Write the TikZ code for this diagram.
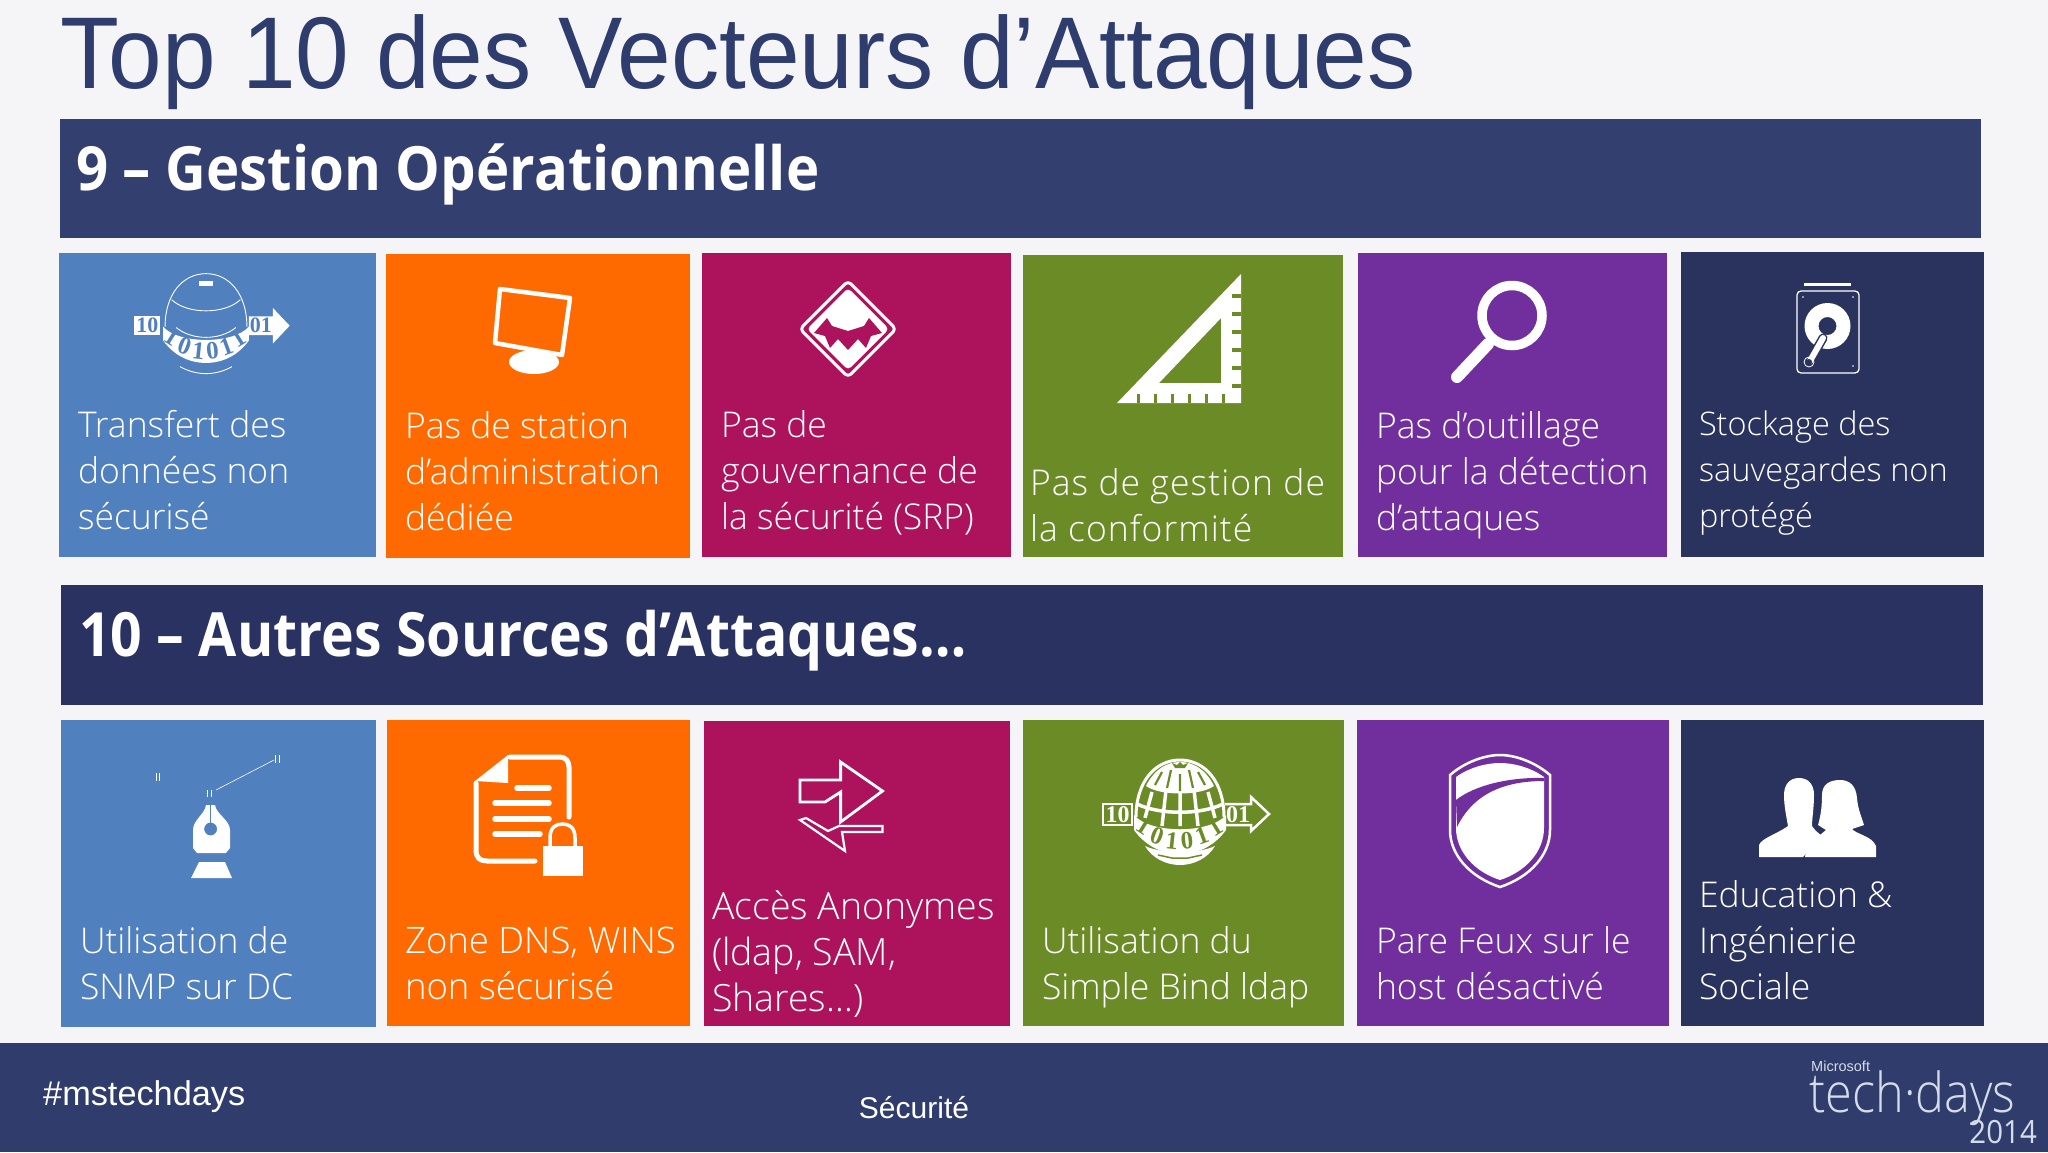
\documentclass[tikz,border=0pt]{standalone}
\usepackage{graphicx}
\usepackage{fontspec}
\setmainfont{Liberation Sans}
\newfontfamily\tilefont{Open Sans Light}
\newfontfamily\tilewide[LetterSpace=3]{Open Sans Light}
\newfontfamily\headfont{Open Sans}
\newfontfamily\logofont{Open Sans Light}
\newfontfamily\digitfont{Liberation Serif}
\definecolor{cbg}{HTML}{F5F5F7}
\definecolor{cblue}{HTML}{5080BE}
\definecolor{corange}{HTML}{FF6A00}
\definecolor{cmag}{HTML}{AD135C}
\definecolor{cgreen}{HTML}{6B8B26}
\definecolor{cpurple}{HTML}{712F9E}
\definecolor{cnavy}{HTML}{2A325E}
\definecolor{cbanA}{HTML}{333F6E}
\definecolor{cbanB}{HTML}{293260}
\definecolor{cfoot}{HTML}{303C6C}
\definecolor{ctitle}{HTML}{2E3D6E}
\definecolor{clogo}{HTML}{D5DCE9}
\tikzset{
  panel/.style={anchor=north west,inner sep=0pt,outer sep=0pt,draw=none},
  tiletext/.style={anchor=west,inner sep=0pt,outer sep=0pt,align=left,text=white,font=\tilefont\fontsize{35.5}{46}\selectfont},
  headtext/.style={anchor=base west,inner sep=0pt,text=white,font=\headfont\bfseries\fontsize{61}{63}\selectfont},
  ic/.style={white,line cap=round,line join=round},
}
% \tile{name}{x1}{y1}{x2}{y2}{colour}
\newcommand{\tile}[6]{\node[panel,fill=#6,minimum width=\the\dimexpr#4pt-#2pt\relax,minimum height=\the\dimexpr#5pt-#3pt\relax] (#1) at (#2,#3) {};}
% band of a globe icon
\newcommand{\globeband}[1]{%
  \fill[white] (-46,3) .. controls (-30,22) and (30,22) .. (46,3) -- (46,18) .. controls (36,32) and (20,42) .. (0,42) .. controls (-20,42) and (-36,32) .. (-46,18) -- cycle;
  \foreach \ch/\px/\py/\rt in {1/-36/14/-32,0/-23/24/-20,1/-8/29/-6,0/7/29/6,1/22/24/20,1/35/15/32}
    \node[inner sep=0pt,text=#1,rotate=\rt,font=\digitfont\bfseries\fontsize{25}{25}\selectfont] at (\px,\py) {\ch};
}
\begin{document}
\begin{tikzpicture}[x=1pt,y=-1pt]
\useasboundingbox (0,0) rectangle (2048,1152);
\fill[cbg] (0,0) rectangle (2048,1152);
% title
\node[anchor=base west,inner sep=0pt,text=ctitle,font=\fontsize{102}{104}\selectfont] (title) at (60,88.5) {\scalebox{.945}[1]{Top 10 des Vecteurs d’Attaques}};
% banners
\tile{banA}{60}{119}{1981}{238}{cbanA}
\tile{banB}{61}{585}{1983}{705}{cbanB}
\node[headtext] (headA) at (76,190) {\scalebox{.923}[1]{9 – Gestion Opérationnelle}};
\node[headtext] (headB) at (79,656.5) {\scalebox{.908}[1]{10 – Autres Sources d’Attaques…}};
% row 1
\tile{a1}{59}{253}{376}{557}{cblue}
\tile{a2}{386}{254}{690}{558}{corange}
\tile{a3}{702}{253}{1011}{557}{cmag}
\tile{a4}{1023}{255}{1343}{557}{cgreen}
\tile{a5}{1358}{253}{1667}{557}{cpurple}
\tile{a6}{1681}{252}{1984}{557}{cnavy}
% row 2
\tile{b1}{61}{720}{376}{1027}{cblue}
\tile{b2}{387}{720}{690}{1026}{corange}
\tile{b3}{704}{721}{1010}{1026}{cmag}
\tile{b4}{1023}{720}{1344}{1026}{cgreen}
\tile{b5}{1357}{720}{1669}{1026}{cpurple}
\tile{b6}{1681}{720}{1984}{1026}{cnavy}
% footer
\tile{foot}{0}{1043}{2048}{1152}{cfoot}
% tile labels
\node[tiletext] (ta1) at (78,470) {Transfert des\\données non\\sécurisé};
\node[tiletext] (ta2) at (405,471) {Pas de station\\d’administration\\dédiée};
\node[tiletext] (ta3) at (721,473) {Pas de\\gouvernance de\\la sécurité (SRP)};
\node[tiletext,font=\tilewide\fontsize{35.5}{46}\selectfont] (ta4) at (1030,505) {Pas de gestion de\\la conformité};
\node[tiletext] (ta5) at (1376,475) {Pas d’outillage\\pour la détection\\d’attaques};
\node[tiletext,font=\tilefont\fontsize{32.5}{46}\selectfont] (ta6) at (1699,473) {Stockage des\\sauvegardes non\\protégé};
\node[tiletext] (tb1) at (80,963) {Utilisation de\\SNMP sur DC};
\node[tiletext,font=\tilefont\fontsize{36.5}{46}\selectfont] (tb2) at (405,963) {Zone DNS, WINS\\non sécurisé};
\node[tiletext,font=\tilefont\fontsize{37.5}{46}\selectfont] (tb3) at (712,954) {Accès Anonymes\\(ldap, SAM,\\Shares…)};
\node[tiletext] (tb4) at (1042,967) {Utilisation du\\Simple Bind ldap};
\node[tiletext] (tb5) at (1376,963) {Pare Feux sur le\\host désactivé};
\node[tiletext] (tb6) at (1699,940) {Education \&\\Ingénierie\\Sociale};
% footer text
\node[anchor=west,inner sep=0pt,text=white,font=\fontsize{34.3}{40}\selectfont] (tag) at (43,1097) {\#mstechdays};
\node[inner sep=0pt,text=white,font=\fontsize{30}{32}\selectfont] (sec) at (914,1108) {Sécurité};
\node[anchor=base west,inner sep=0pt,text=clogo,font=\fontsize{14.5}{16}\selectfont] (ms) at (1811,1071) {Microsoft};
\node[anchor=base west,inner sep=0pt,text=clogo,font=\logofont\fontsize{55}{55}\selectfont] (td) at (1809,1112) {\scalebox{.885}[1]{tech·days}};
\node[anchor=base east,inner sep=0pt,text=clogo,font=\headfont\fontsize{32}{32}\selectfont] (yr) at (2037,1143) {\scalebox{.92}[1]{2014}};
% --- icon a1: thin globe
\begin{scope}[shift={(206,322)},scale=.93]
  \draw[white,line width=.9] (-44,5) .. controls (-44,-30) and (-25,-52) .. (0,-52) .. controls (25,-52) and (44,-30) .. (44,5);
  \draw[white,line width=.9] (-37,-24) .. controls (-20,-8) and (20,-8) .. (37,-24);
  \draw[white,line width=.9] (-32,6) .. controls (-15,20) and (15,20) .. (32,6);
  \fill[white] (-8,-44) rectangle (8,-39);
  \draw[white,line width=.9] (-28,48) .. controls (-10,58) and (10,58) .. (28,48);
  \begin{scope}[yshift=-2pt]\globeband{cblue}\end{scope}
  \fill[white] (-77,-6) rectangle (-49,14);
  \node[inner sep=0pt,text=cblue,font=\digitfont\bfseries\fontsize{22}{22}\selectfont] at (-63,4) {10};
  \fill[white] (46,-6) -- (72,-6) -- (72,-15) -- (90,4) -- (72,23) -- (72,14) -- (46,14) -- cycle;
  \node[inner sep=0pt,text=cblue,font=\digitfont\bfseries\fontsize{22}{22}\selectfont] at (59,4) {01};
\end{scope}
% --- icon b4: bold globe
\begin{scope}[shift={(1180,812)}]
  \draw[white,line width=3] (-44,5) .. controls (-44,-30) and (-25,-52) .. (0,-52) .. controls (25,-52) and (44,-30) .. (44,5);
  \fill[white] (-34,-26) .. controls (-25,-44) and (-12,-50) .. (0,-50) .. controls (12,-50) and (25,-44) .. (34,-26) .. controls (20,-16) and (-20,-16) .. (-34,-26) -- cycle;
  \draw[cgreen,line width=2.2] (-9,-42) -- (-13,-24) (0,-38) -- (0,-21) (9,-42) -- (13,-24) (-18,-40) -- (-25,-27) (18,-40) -- (25,-27);
  \fill[cgreen] (-8,-49) -- (-5,-44) -- (5,-44) -- (8,-49) -- (3,-47) -- (0,-50) -- (-3,-47) -- cycle;
  \draw[white,line width=3.5] (0,-20) -- (0,14) (-14,-22) -- (-18,14) (14,-22) -- (18,14) (-28,-20) -- (-35,6) (28,-20) -- (35,6);
  \draw[white,line width=3.5] (-43,-8) .. controls (-20,3) and (20,3) .. (43,-8);
  \globeband{cgreen}
  \fill[white] (-35,34) .. controls (-18,42) and (18,42) .. (35,34) .. controls (28,46) and (14,53) .. (0,53) .. controls (-14,53) and (-28,46) .. (-35,34) -- cycle;
  \draw[cgreen,line width=1.5] (-22,43) -- (-8,46) -- (8,46) -- (22,43);
  \draw[white,line width=2.5] (-77,-8) rectangle (-48,13);
  \node[inner sep=0pt,text=white,font=\digitfont\bfseries\fontsize{24}{24}\selectfont] at (-62.5,2.5) {10};
  \draw[white,line width=2.5,line join=miter] (45,-8) -- (71,-8) -- (71,-15) -- (89,2) -- (71,19) -- (71,13) -- (45,13);
  \node[inner sep=0pt,text=white,font=\digitfont\bfseries\fontsize{24}{24}\selectfont] at (58,2.5) {01};
\end{scope}
% --- icon a2: monitor
\fill[white] (534,362) ellipse (25 and 12);
\draw[ic,line width=4.5,fill=corange] (500,289) -- (570,298) -- (562,355) -- (495,343) -- cycle;
% --- icon a3: diamond
\draw[ic,line width=3,rounded corners=4pt] (848,281) -- (896,329) -- (848,377) -- (800,329) -- cycle;
\fill[white,rounded corners=4pt] (848,288) -- (889,329) -- (848,370) -- (807,329) -- cycle;
\fill[cmag] (814,333) -- (827,318) -- (832,326) -- (848,331) -- (864,326) -- (869,318) -- (882,333) -- (871,336) -- (866,348) -- (858,339) -- (848,350) -- (838,339) -- (830,348) -- (825,336) -- cycle;
% --- icon a4: set square
\fill[white,even odd rule] (1241,274) -- (1241,403) -- (1117,403) -- cycle (1221,318) -- (1221,383) -- (1159,383) -- cycle;
\foreach \n in {0,...,5} \fill[cgreen] (1232,{294+\n*18}) rectangle (1241,{298+\n*18});
\foreach \n in {0,...,5} \fill[cgreen] ({1137+\n*17},394) rectangle ({1140+\n*17},403);
% --- icon a5: magnifier
\draw[ic,line width=9.5] (1512,315.5) circle (30);
\draw[ic,line width=12] (1488,344) -- (1457,377);
% --- icon a6: disk
\draw[white,line width=3] (1804,284.5) -- (1851,284.5);
\draw[white,line width=1.3,rounded corners=4pt] (1797,291) rectangle (1859,373);
\fill[white,even odd rule] (1827.5,326) circle (23) (1827.5,326) circle (9);
\draw[cnavy,line width=9,line cap=round] (1823,338) -- (1810,361);
\draw[white,line width=6,line cap=round] (1823,338) -- (1810,361);
\fill[cnavy] (1809,362) circle (3);
\draw[white,line width=.8] (1809,362) circle (5);
\foreach \p in {(1803,297),(1853,297),(1853,366)} \fill[white] \p circle (.8);
% --- icon b1: pen
\fill[white,even odd rule] (206,805) -- (215,805) .. controls (216,814) and (230,820) .. (230,830) -- (230,848) -- (226,853) -- (197,853) -- (193,848) -- (193,830) .. controls (193,820) and (205,814) .. (206,805) -- cycle (210.6,829) circle (6.5);
\fill[cblue] (210,805) rectangle (211.3,824);
\fill[white] (199,862) -- (225,862) -- (232,878) -- (191,878) -- cycle;
\draw[white,line width=.6] (216,790) -- (274,760);
\draw[white,line width=.6] (156,773) -- (156,781) (159,773) -- (159,781) (275,755) -- (275,763) (279,755) -- (279,763) (207,790) -- (207,797) (211,790) -- (211,797);
% --- icon b2: document with lock
\draw[ic,line width=5] (510,757) -- (560,757) .. controls (566,757) and (569,762) .. (569,767) -- (569,817);
\draw[ic,line width=5] (476,783) -- (476,850) .. controls (476,858) and (480,861) .. (487,861) -- (535,861);
\fill[white] (508,755) -- (475,781) -- (508,783) -- cycle;
\draw[ic,line width=5.5] (517,788) -- (549,788) (495,803) -- (549,803) (495,819) -- (549,819) (495,834) -- (540,834);
\fill[white] (543,846) rectangle (583,876);
\draw[white,line width=3.5] (550,847) -- (550,838) .. controls (550,827) and (556,824) .. (562.5,824) .. controls (569,824) and (575,827) .. (575,838) -- (575,847);
% --- icon b3: arrows
\draw[ic,line width=2.8,line join=miter] (800,780) -- (840.6,780) -- (840.6,762) -- (882.5,791) -- (840.6,822) -- (840.6,792) -- (825,802) -- (800,802) -- cycle;
\draw[ic,line width=2.2,line join=miter] (882.5,826) -- (839,826) -- (828,831) -- (806,818) -- (800,820) -- (845,851) -- (842,832) -- (882.5,832) -- cycle;
% --- icon b5: shield
\draw[white,line width=2.5] (1450,775) .. controls (1465,762) and (1485,755) .. (1500,755) .. controls (1515,755) and (1535,762) .. (1550,775) -- (1550,830) .. controls (1550,855) and (1530,877) .. (1500,887) .. controls (1470,877) and (1450,855) .. (1450,830) -- cycle;
\fill[white] (1456,777) .. controls (1470,767) and (1487,763) .. (1500,763) .. controls (1513,763) and (1530,767) .. (1544,777) -- (1544,828) .. controls (1544,852) and (1525,872) .. (1500,880) .. controls (1475,872) and (1456,852) .. (1456,828) -- cycle;
\fill[cpurple] (1456,800) .. controls (1475,785) and (1510,777) .. (1544,778) -- (1544,781) .. controls (1510,781) and (1475,790) .. (1457,827) -- cycle;
% --- icon b6: two people
\fill[white] (1784,795) .. controls (1784,784) and (1790,778) .. (1799,778) .. controls (1808,778) and (1814,784) .. (1814,795) .. controls (1814,808) and (1812,818) .. (1812,826) .. controls (1816,832) and (1820,834) .. (1822,836) -- (1803,857) -- (1759,857) -- (1759,845) .. controls (1762,838) and (1775,835) .. (1788,826) .. controls (1786,815) and (1784,805) .. (1784,795) -- cycle;
\fill[white] (1822,795) .. controls (1822,784) and (1830,780) .. (1840,780) .. controls (1850,780) and (1856,786) .. (1857,798) .. controls (1858,810) and (1862,818) .. (1864,825) -- (1852,829) .. controls (1856,834) and (1872,836) .. (1876,846) -- (1876,857) -- (1805,857) .. controls (1806,846) and (1814,840) .. (1826,830) -- (1818,825) .. controls (1821,815) and (1822,805) .. (1822,795) -- cycle;
\end{tikzpicture}
\end{document}
